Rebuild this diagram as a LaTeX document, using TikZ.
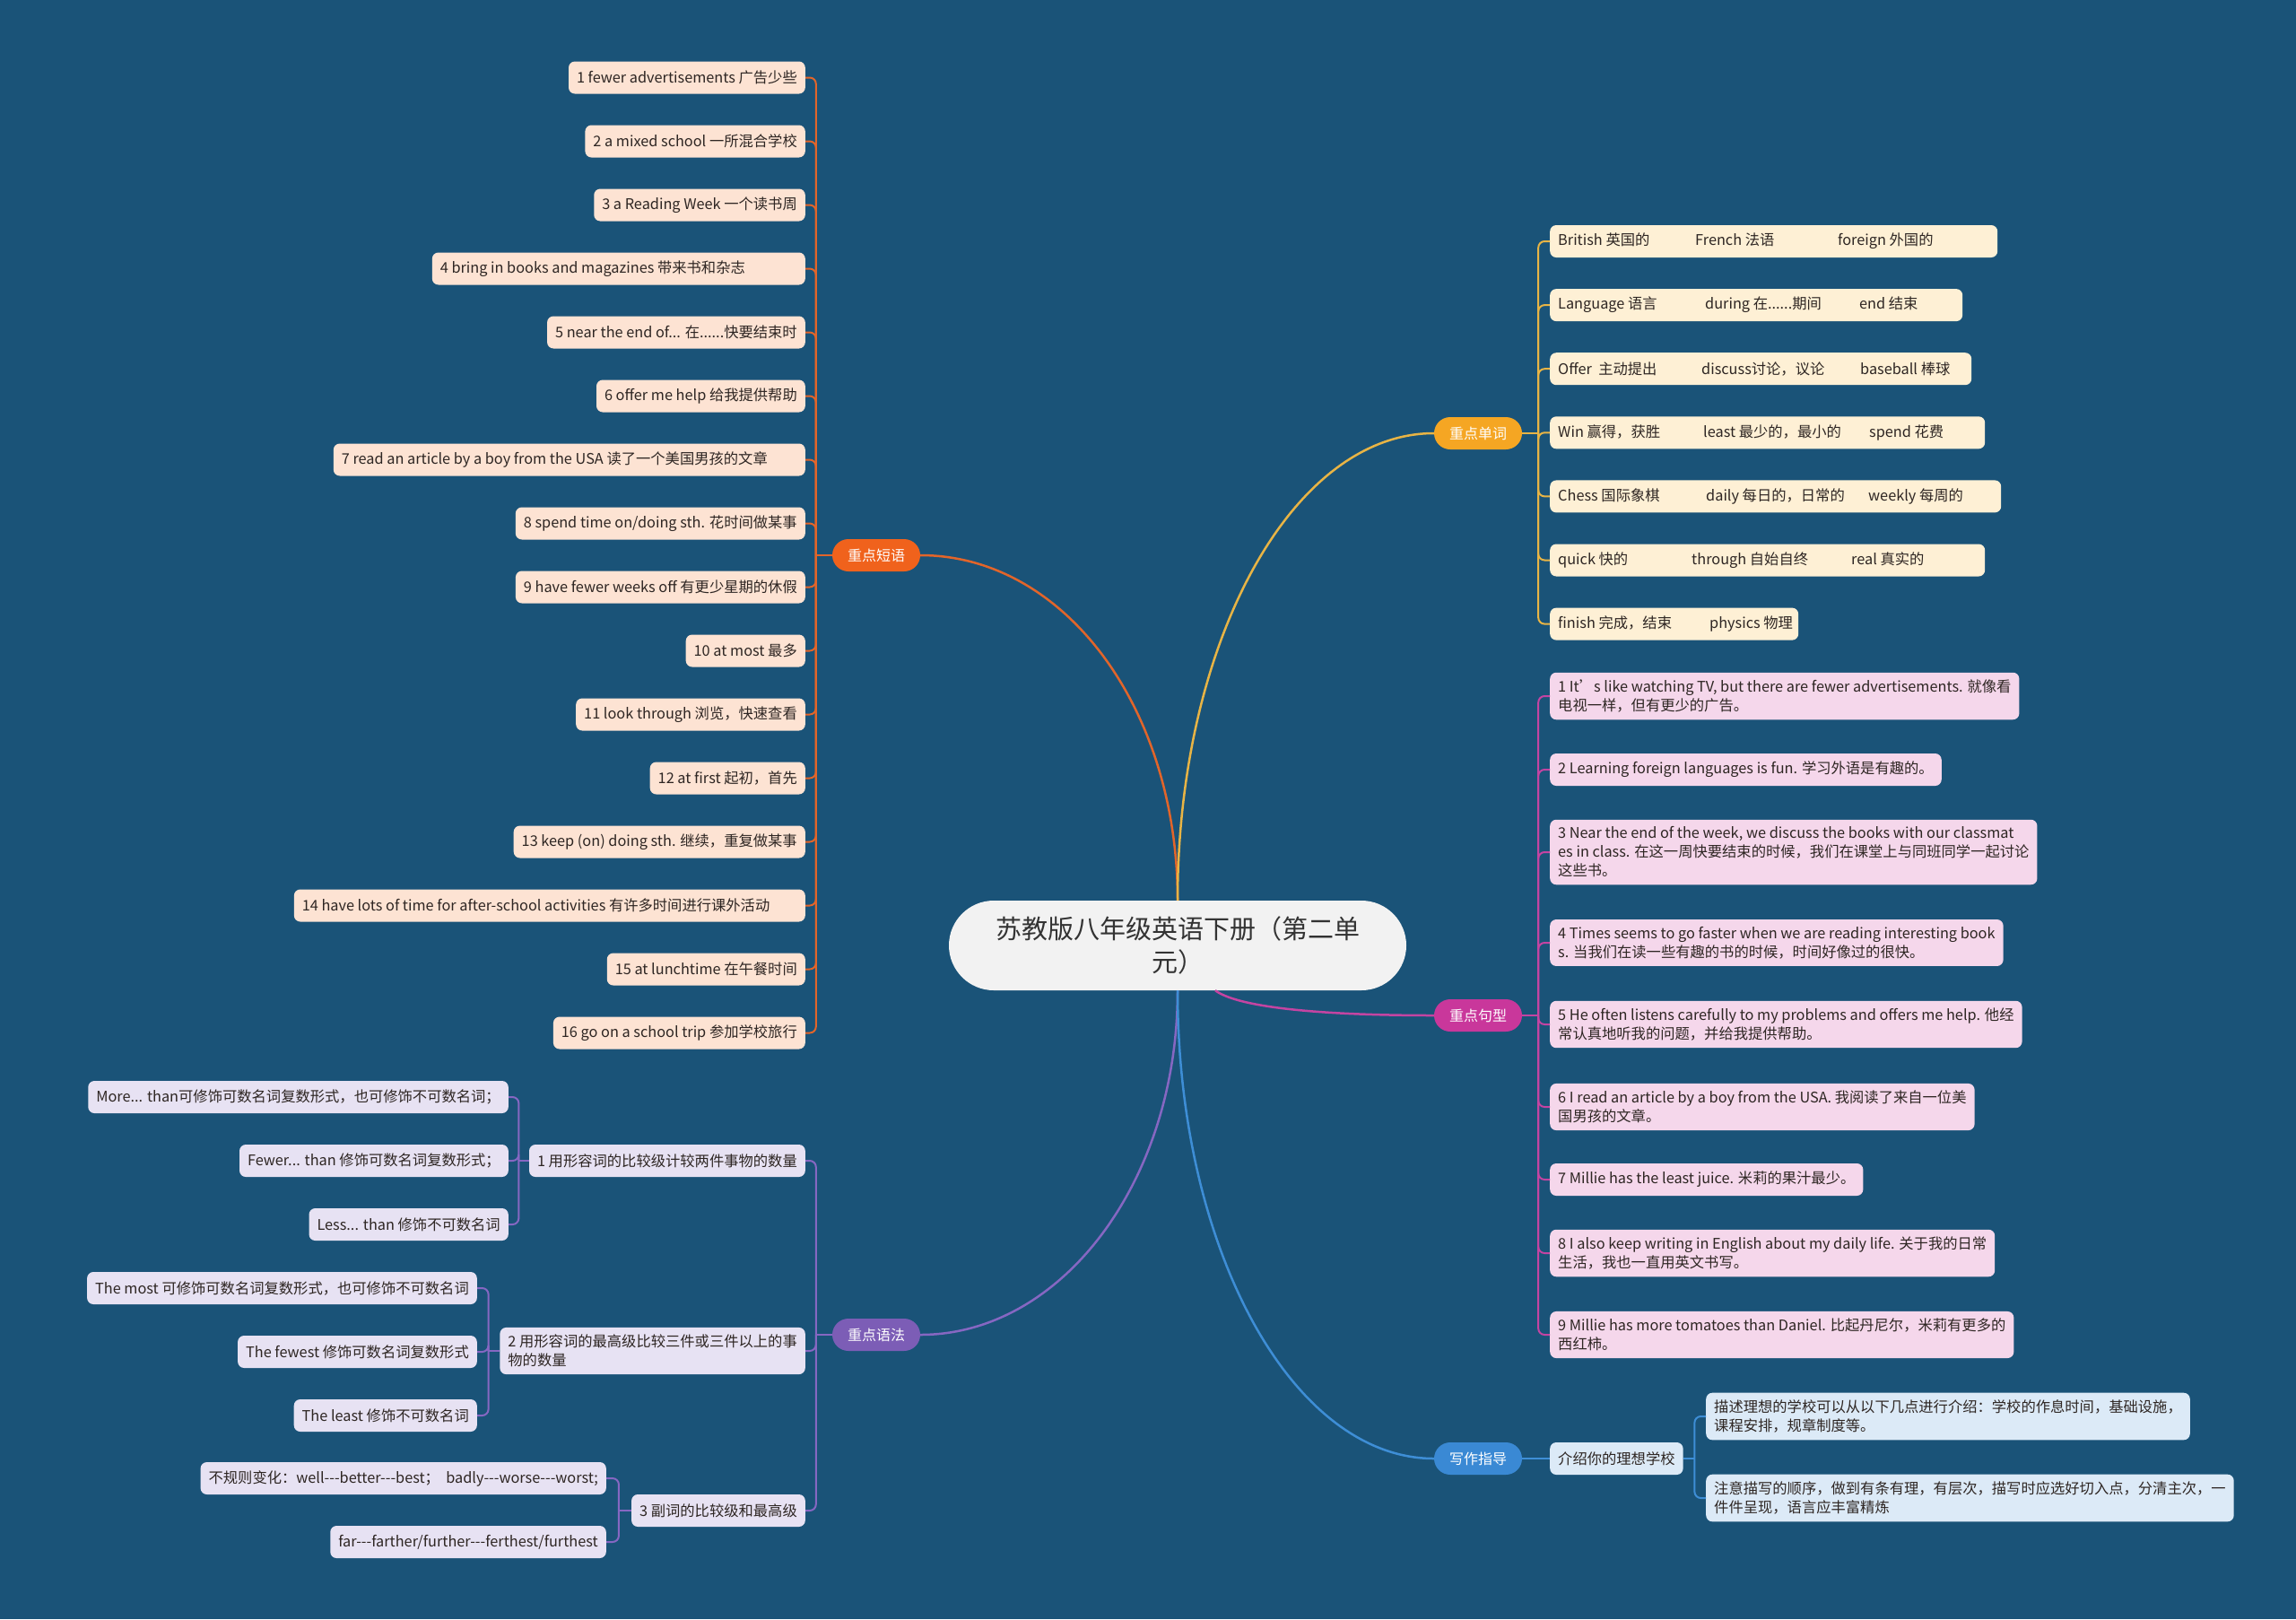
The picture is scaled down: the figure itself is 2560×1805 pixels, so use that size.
\documentclass[tikz,border=0pt]{standalone}
\usepackage{fontspec}
\setmainfont{Noto Sans CJK SC}
\usetikzlibrary{arrows.meta, calc, positioning}
\definecolor{bgblue}{HTML}{1A5378}
\definecolor{rootfill}{HTML}{F2F2F2}
\definecolor{roottext}{HTML}{333333}
\definecolor{leaftext}{HTML}{2E2623}
\definecolor{phrcol}{HTML}{F0621C}
\definecolor{phrline}{HTML}{E2652A}
\definecolor{phrfill}{HTML}{FDE3D3}
\definecolor{wrdcol}{HTML}{F5A623}
\definecolor{wrdline}{HTML}{E8B445}
\definecolor{wrdfill}{HTML}{FEF0D5}
\definecolor{sencol}{HTML}{C9379B}
\definecolor{senline}{HTML}{C444A2}
\definecolor{senfill}{HTML}{F5D7EB}
\definecolor{gracol}{HTML}{7C5DB6}
\definecolor{graline}{HTML}{8667C2}
\definecolor{grafill}{HTML}{E7E2F3}
\definecolor{wricol}{HTML}{3A89D4}
\definecolor{wriline}{HTML}{3E8ED6}
\definecolor{wrifill}{HTML}{DCEAF7}
\newcommand{\wcol}[2]{\makebox[#1pt][l]{#2}}
\newcommand{\tridash}{-\kern0pt-\kern0pt-}

\begin{document}
\begin{tikzpicture}[x=1pt, y=-1pt,
  leaf/.style={rounded corners=7pt, inner xsep=9pt, inner ysep=8pt, minimum height=36pt, text=leaftext, align=left, font=\fontsize{16.3}{21}\selectfont},
  phrleaf/.style={leaf, fill=phrfill, anchor=east},
  wrdleaf/.style={leaf, fill=wrdfill, anchor=west},
  senleaf/.style={leaf, fill=senfill, anchor=west},
  graleaf/.style={leaf, fill=grafill, anchor=east},
  wrileaf/.style={leaf, fill=wrifill, anchor=west},
  branch/.style={rounded corners=18pt, minimum height=36pt, inner xsep=17pt, text=white, font=\fontsize{16}{20}\selectfont},
  link/.style={line width=2pt, rounded corners=7pt},
  trunk/.style={line width=2.5pt}]
\fill[bgblue] (0,0) rectangle (2560,1805);
\useasboundingbox (0,0) rectangle (2560,1805);

\node[fill=rootfill, text=roottext, rounded corners=50pt, minimum width=510pt, minimum height=100pt, align=center, font=\fontsize{29}{37}\selectfont] (root) at (1313,1054) {苏教版八年级英语下册（第二单\\元）};

\node[branch, fill=phrcol] (phr) at (977,619) {重点短语};
\node[branch, fill=wrdcol] (wrd) at (1648,483) {重点单词};
\node[branch, fill=sencol] (sen) at (1648,1132) {重点句型};
\node[branch, fill=gracol] (gra) at (977,1488) {重点语法};
\node[branch, fill=wricol] (wri) at (1648,1626) {写作指导};

\node[phrleaf] (p1) at (898,86.5) {1 fewer advertisements 广告少些};
\node[phrleaf] (p2) at (898,157.5) {2 a mixed school 一所混合学校};
\node[phrleaf] (p3) at (898,228.5) {3 a Reading Week 一个读书周};
\node[phrleaf] (p4) at (898,299.5) {\makebox[398pt][l]{4 bring in books and magazines 带来书和杂志}};
\node[phrleaf] (p5) at (898,370.5) {5 near the end of... 在......快要结束时};
\node[phrleaf] (p6) at (898,441.5) {6 offer me help 给我提供帮助};
\node[phrleaf] (p7) at (898,512.5) {\makebox[508pt][l]{7 read an article by a boy from the USA 读了一个美国男孩的文章}};
\node[phrleaf] (p8) at (898,583.5) {8 spend time on/doing sth. 花时间做某事};
\node[phrleaf] (p9) at (898,654.5) {9 have fewer weeks off 有更少星期的休假};
\node[phrleaf] (p10) at (898,725.5) {10 at most 最多};
\node[phrleaf] (p11) at (898,796.5) {11 look through 浏览，快速查看};
\node[phrleaf] (p12) at (898,867.5) {12 at first 起初，首先};
\node[phrleaf] (p13) at (898,938.5) {13 keep (on) doing sth. 继续，重复做某事};
\node[phrleaf] (p14) at (898,1009.5) {\makebox[552pt][l]{14 have lots of time for after-school activities 有许多时间进行课外活动}};
\node[phrleaf] (p15) at (898,1080.5) {15 at lunchtime 在午餐时间};
\node[phrleaf] (p16) at (898,1151.5) {16 go on a school trip 参加学校旅行};

\node[wrdleaf] (w1) at (1728,269) {\wcol{153}{British 英国的}\wcol{159}{French 法语}\wcol{169}{foreign 外国的}};
\node[wrdleaf] (w2) at (1728,340.1) {\wcol{164}{Language 语言}\wcol{172}{during 在......期间}\wcol{106}{end 结束}};
\node[wrdleaf] (w3) at (1728,411.2) {\wcol{160}{Offer\ \ 主动提出}\wcol{177}{discuss讨论，议论}\wcol{115}{baseball 棒球}};
\node[wrdleaf] (w4) at (1728,482.3) {\wcol{162}{Win 赢得，获胜}\wcol{185}{least 最少的，最小的}\wcol{120}{spend 花费}};
\node[wrdleaf] (w5) at (1728,553.4) {\wcol{165}{Chess 国际象棋}\wcol{181}{daily 每日的，日常的}\wcol{139}{weekly 每周的}};
\node[wrdleaf] (w6) at (1728,624.5) {\wcol{149}{quick 快的}\wcol{178}{through 自始自终}\wcol{140}{real 真实的}};
\node[wrdleaf] (w7) at (1728,695.6) {\wcol{169}{finish 完成，结束}\wcol{90}{physics 物理}};

\node[senleaf] (s1) at (1728,776) {1 It’s like watching TV, but there are fewer advertisements. 就像看\\电视一样，但有更少的广告。};
\node[senleaf] (s2) at (1728,858) {2 Learning foreign languages is fun. 学习外语是有趣的。};
\node[senleaf] (s3) at (1728,950) {3 Near the end of the week, we discuss the books with our classmat\\es in class. 在这一周快要结束的时候，我们在课堂上与同班同学一起讨论\\这些书。};
\node[senleaf] (s4) at (1728,1051) {4 Times seems to go faster when we are reading interesting book\\s. 当我们在读一些有趣的书的时候，时间好像过的很快。};
\node[senleaf] (s5) at (1728,1142) {5 He often listens carefully to my problems and offers me help. 他经\\常认真地听我的问题，并给我提供帮助。};
\node[senleaf] (s6) at (1728,1234) {6 I read an article by a boy from the USA. 我阅读了来自一位美\\国男孩的文章。};
\node[senleaf] (s7) at (1728,1315) {7 Millie has the least juice. 米莉的果汁最少。};
\node[senleaf] (s8) at (1728,1397) {8 I also keep writing in English about my daily life. 关于我的日常\\生活，我也一直用英文书写。};
\node[senleaf] (s9) at (1728,1488) {9 Millie has more tomatoes than Daniel. 比起丹尼尔，米莉有更多的\\西红柿。};

\node[graleaf] (g1) at (898,1294) {1 用形容词的比较级计较两件事物的数量};
\node[graleaf] (g2) at (898,1506) {2 用形容词的最高级比较三件或三件以上的事\\物的数量};
\node[graleaf] (g3) at (898,1684) {3 副词的比较级和最高级};
\node[graleaf] (ga1) at (567,1223) {More... than可修饰可数名词复数形式，也可修饰不可数名词；};
\node[graleaf] (ga2) at (567,1294) {Fewer... than 修饰可数名词复数形式；};
\node[graleaf] (ga3) at (567,1365) {Less... than 修饰不可数名词};
\node[graleaf] (gb1) at (532,1436) {The most 可修饰可数名词复数形式，也可修饰不可数名词};
\node[graleaf] (gb2) at (532,1507) {The fewest 修饰可数名词复数形式};
\node[graleaf] (gb3) at (532,1578) {The least 修饰不可数名词};
\node[graleaf] (gc1) at (676,1648) {不规则变化：well\tridash better\tridash best；\ \ badly\tridash worse\tridash worst;};
\node[graleaf] (gc2) at (676,1719) {far\tridash farther/further\tridash ferthest/furthest};

\node[wrileaf] (x1) at (1728,1626) {介绍你的理想学校};
\node[wrileaf] (xa) at (1902,1579) {描述理想的学校可以从以下几点进行介绍：学校的作息时间，基础设施，\\课程安排，规章制度等。};
\node[wrileaf] (xb) at (1902,1670) {注意描写的顺序，做到有条有理，有层次，描写时应选好切入点，分清主次，一\\件件呈现，语言应丰富精炼};

\draw[trunk, phrline] (root.north) .. controls +(0,-215) and +(160,0) .. (phr.east);
\draw[trunk, wrdline] (root.north) .. controls +(0,-288) and +(-158,0) .. (wrd.west);
\draw[trunk, senline] ($(root.south)+(42,0)$) .. controls +(30,22) and +(-100,0) .. (sen.west);
\draw[trunk, graline] (root.south) .. controls +(0,212) and +(158,0) .. (gra.east);
\draw[trunk, wriline] (root.south) .. controls +(0,288) and +(-158,0) .. (wri.west);

\coordinate (phrj) at ($(phr.west)+(-18,0)$);
\coordinate (wrdj) at ($(wrd.east)+(18,0)$);
\coordinate (senj) at ($(sen.east)+(18,0)$);
\coordinate (graj) at ($(gra.west)+(-18,0)$);
\coordinate (g1j) at ($(g1.west)!0.5!(567,1294)$);
\coordinate (g2j) at ($(g2.west)!0.5!(532,1506)$);
\coordinate (g3j) at ($(g3.west)!0.5!(676,1684)$);
\coordinate (x1j) at ($(x1.east)!0.5!(1902,1626)$);

\draw[link, phrline] (phr.west) -- (phrj);
\foreach \i in {1,...,16} \draw[link, phrline] (phrj) |- (p\i.east);
\draw[link, wrdline] (wrd.east) -- (wrdj);
\foreach \i in {1,...,7} \draw[link, wrdline] (wrdj) |- (w\i.west);
\draw[link, senline] (sen.east) -- (senj);
\foreach \i in {1,...,9} \draw[link, senline] (senj) |- (s\i.west);
\draw[link, graline] (gra.west) -- (graj);
\foreach \i in {1,2,3} \draw[link, graline] (graj) |- (g\i.east);
\draw[link, graline] (g1.west) -- (g1j);
\foreach \i in {1,2,3} \draw[link, graline] (g1j) |- (ga\i.east);
\draw[link, graline] (g2.west) -- (g2j);
\foreach \i in {1,2,3} \draw[link, graline] (g2j) |- (gb\i.east);
\draw[link, graline] (g3.west) -- (g3j);
\foreach \i in {1,2} \draw[link, graline] (g3j) |- (gc\i.east);
\draw[link, wriline] (wri.east) -- (x1.west);
\draw[link, wriline] (x1.east) -- (x1j);
\draw[link, wriline] (x1j) |- (xa.west);
\draw[link, wriline] (x1j) |- (xb.west);
\end{tikzpicture}
\end{document}
